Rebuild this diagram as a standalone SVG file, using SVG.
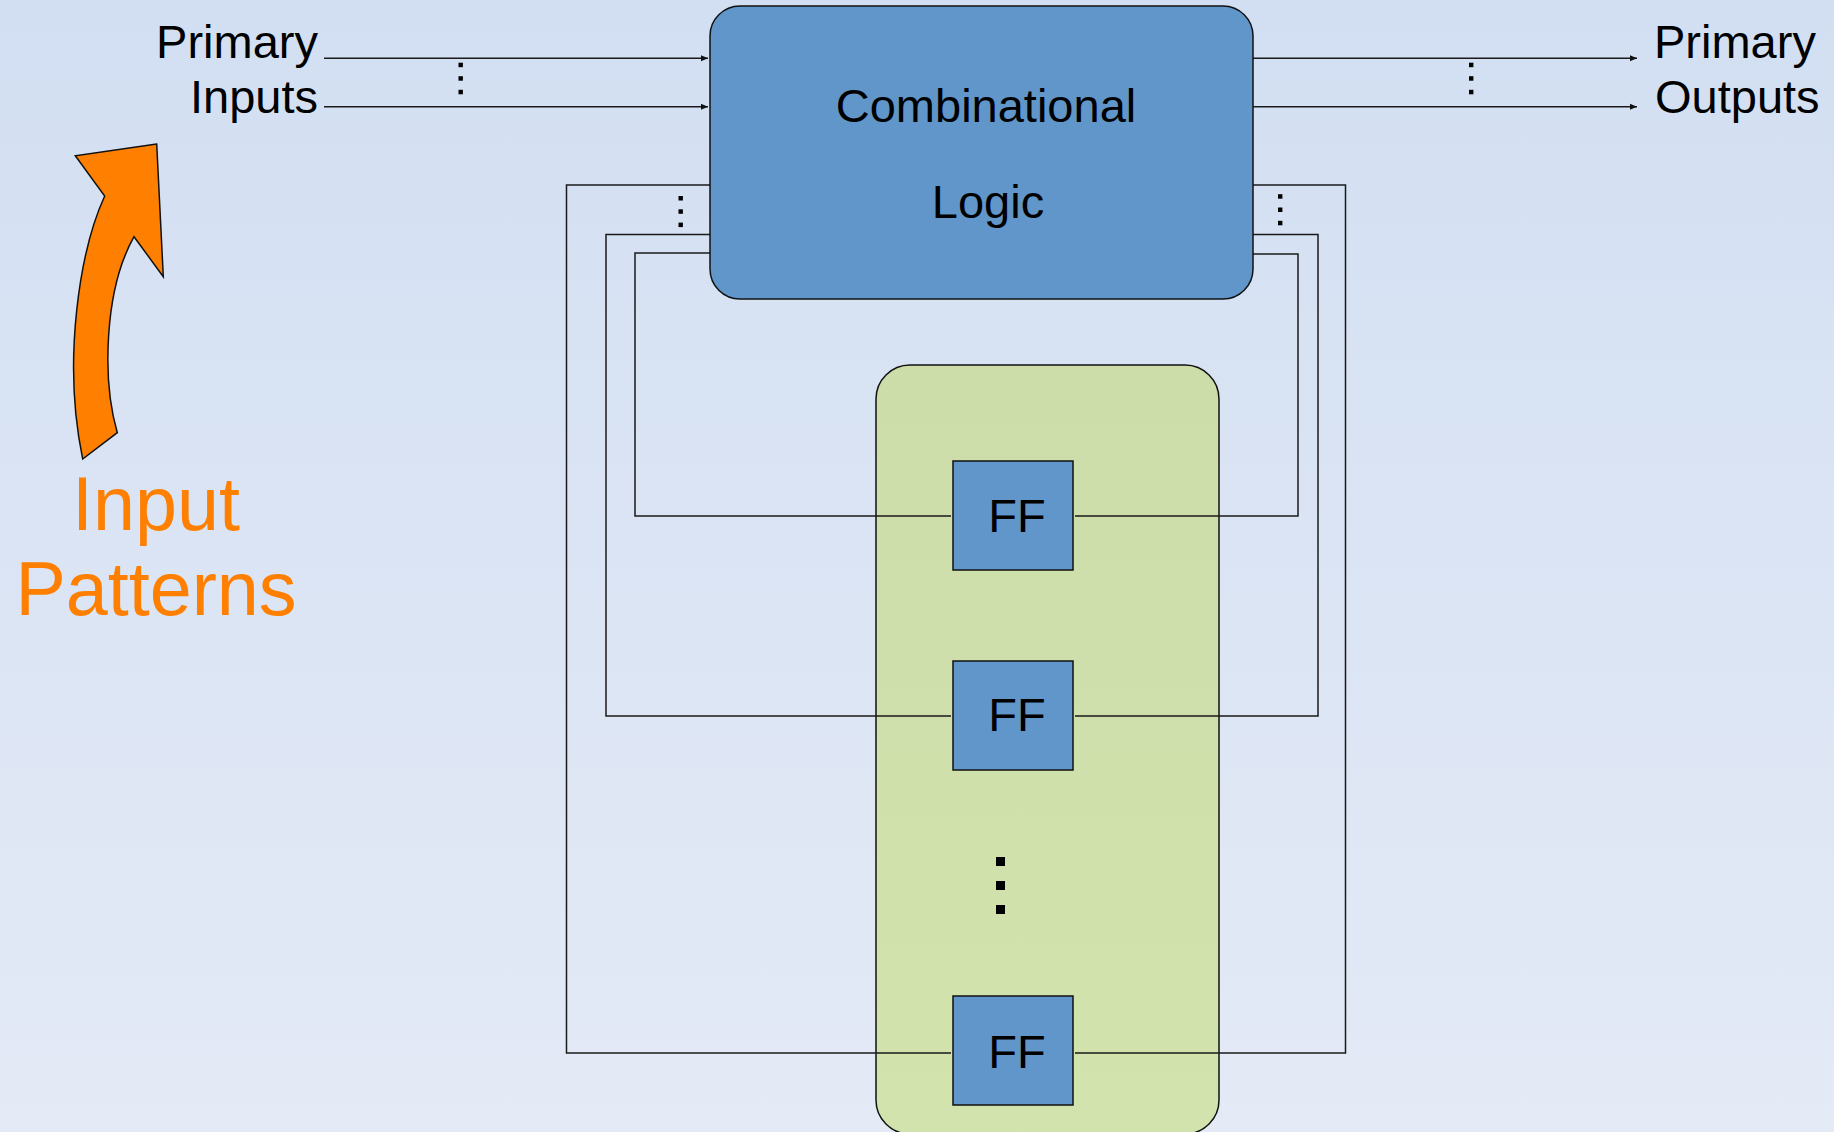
<svg xmlns="http://www.w3.org/2000/svg" width="1834" height="1132" viewBox="0 0 1834 1132">
  <defs>
    <linearGradient id="bg" x1="0" y1="0" x2="0" y2="1">
      <stop offset="0" stop-color="#D2DFF2"/>
      <stop offset="1" stop-color="#E4EAF6"/>
    </linearGradient>
    <linearGradient id="green" x1="0" y1="0" x2="0" y2="1">
      <stop offset="0" stop-color="#CCDDAA"/>
      <stop offset="1" stop-color="#D3E3AD"/>
    </linearGradient>
    <marker id="arr" markerUnits="userSpaceOnUse" markerWidth="8" markerHeight="7" refX="7" refY="3.5" orient="auto">
      <path d="M0,0.5 L7,3.5 L0,6.5 Z" fill="#111"/>
    </marker>
    <style>
      .wire { fill: none; stroke: #1a1a1a; stroke-width: 1.5; }
      .io { fill: none; stroke: #1a1a1a; stroke-width: 1.5; marker-end: url(#arr); }
      .blue { fill: #6196CA; stroke: #111; stroke-width: 1.5; }
      .lbl { font-family: "Liberation Sans", Arial, sans-serif; font-size: 47px; fill: #000; }
      .big { font-family: "Liberation Sans", Arial, sans-serif; font-size: 75.5px; fill: #FF7F00; }
      .dot { fill: #000; }
    </style>
  </defs>

  <rect x="0" y="0" width="1834" height="1132" fill="url(#bg)"/>

  <g id="ff-container">
    <rect x="876" y="365" width="343" height="769" rx="34" ry="34" fill="url(#green)" stroke="#111" stroke-width="1.5"/>
  </g>

  <g id="connectors">
    <path class="io" d="M324 58.3 H708"/>
    <path class="io" d="M324 106.7 H708"/>
    <path class="io" d="M1253 58.3 H1637"/>
    <path class="io" d="M1253 106.7 H1637"/>
    <path class="wire" d="M710 185 H566.5 V1053 H951"/>
    <path class="wire" d="M710 234.5 H606 V716 H951"/>
    <path class="wire" d="M710 253 H635 V516 H951"/>
    <path class="wire" d="M1253 185 H1345.5 V1053 H1075"/>
    <path class="wire" d="M1253 234.5 H1318 V716 H1075"/>
    <path class="wire" d="M1253 254 H1298 V516 H1075"/>
    <g id="dots-in">
      <rect class="dot" x="458.5" y="62.7" width="4.4" height="4.5"/>
      <rect class="dot" x="458.5" y="76.2" width="4.4" height="4.5"/>
      <rect class="dot" x="458.5" y="89.8" width="4.4" height="4.5"/>
    </g>
    <g id="dots-out">
      <rect class="dot" x="1469" y="62.7" width="4.4" height="4.5"/>
      <rect class="dot" x="1469" y="76.2" width="4.4" height="4.5"/>
      <rect class="dot" x="1469" y="89.8" width="4.4" height="4.5"/>
    </g>
    <g id="dots-fb-left">
      <rect class="dot" x="678.5" y="196" width="4.4" height="4.5"/>
      <rect class="dot" x="678.5" y="209.3" width="4.4" height="4.5"/>
      <rect class="dot" x="678.5" y="222.6" width="4.4" height="4.5"/>
    </g>
    <g id="dots-fb-right">
      <rect class="dot" x="1278" y="194.2" width="4.4" height="4.5"/>
      <rect class="dot" x="1278" y="207.5" width="4.4" height="4.5"/>
      <rect class="dot" x="1278" y="220.8" width="4.4" height="4.5"/>
    </g>
  </g>

  <g id="combinational-logic">
    <rect class="blue" x="710" y="6" width="543" height="293" rx="30" ry="30"/>
    <text class="lbl" x="986" y="122" text-anchor="middle">Combinational</text>
    <text class="lbl" x="988" y="218" text-anchor="middle">Logic</text>
  </g>

  <g id="ff1">
    <rect class="blue" x="953" y="461" width="120" height="109"/>
    <text class="lbl" x="1017" y="532" text-anchor="middle">FF</text>
  </g>
  <g id="ff2">
    <rect class="blue" x="953" y="661" width="120" height="109"/>
    <text class="lbl" x="1017" y="731" text-anchor="middle">FF</text>
  </g>
  <g id="ff-dots">
    <rect class="dot" x="996" y="857" width="9" height="9"/>
    <rect class="dot" x="996" y="881" width="9" height="9"/>
    <rect class="dot" x="996" y="905" width="9" height="9"/>
  </g>
  <g id="ff3">
    <rect class="blue" x="953" y="996" width="120" height="109"/>
    <text class="lbl" x="1017" y="1067.5" text-anchor="middle">FF</text>
  </g>

  <g id="primary-inputs">
    <text class="lbl" x="318" y="58" text-anchor="end">Primary</text>
    <text class="lbl" x="318" y="113" text-anchor="end">Inputs</text>
  </g>

  <g id="primary-outputs">
    <text class="lbl" x="1654" y="58.3">Primary</text>
    <text class="lbl" x="1655" y="113.3">Outputs</text>
  </g>

  <g id="input-patterns">
    <path d="M156.7 144 L75.3 155.7 L104.7 196 C80 250 62 360 82.7 459 L117.3 432.7 C102 380 104 290 134 236.7 L163.3 276.7 Z" fill="#FF7F00" stroke="#111" stroke-width="1.5" stroke-linejoin="miter"/>
    <text class="big" x="156" y="530" text-anchor="middle">Input</text>
    <text class="big" x="156" y="615" text-anchor="middle">Patterns</text>
  </g>
</svg>
